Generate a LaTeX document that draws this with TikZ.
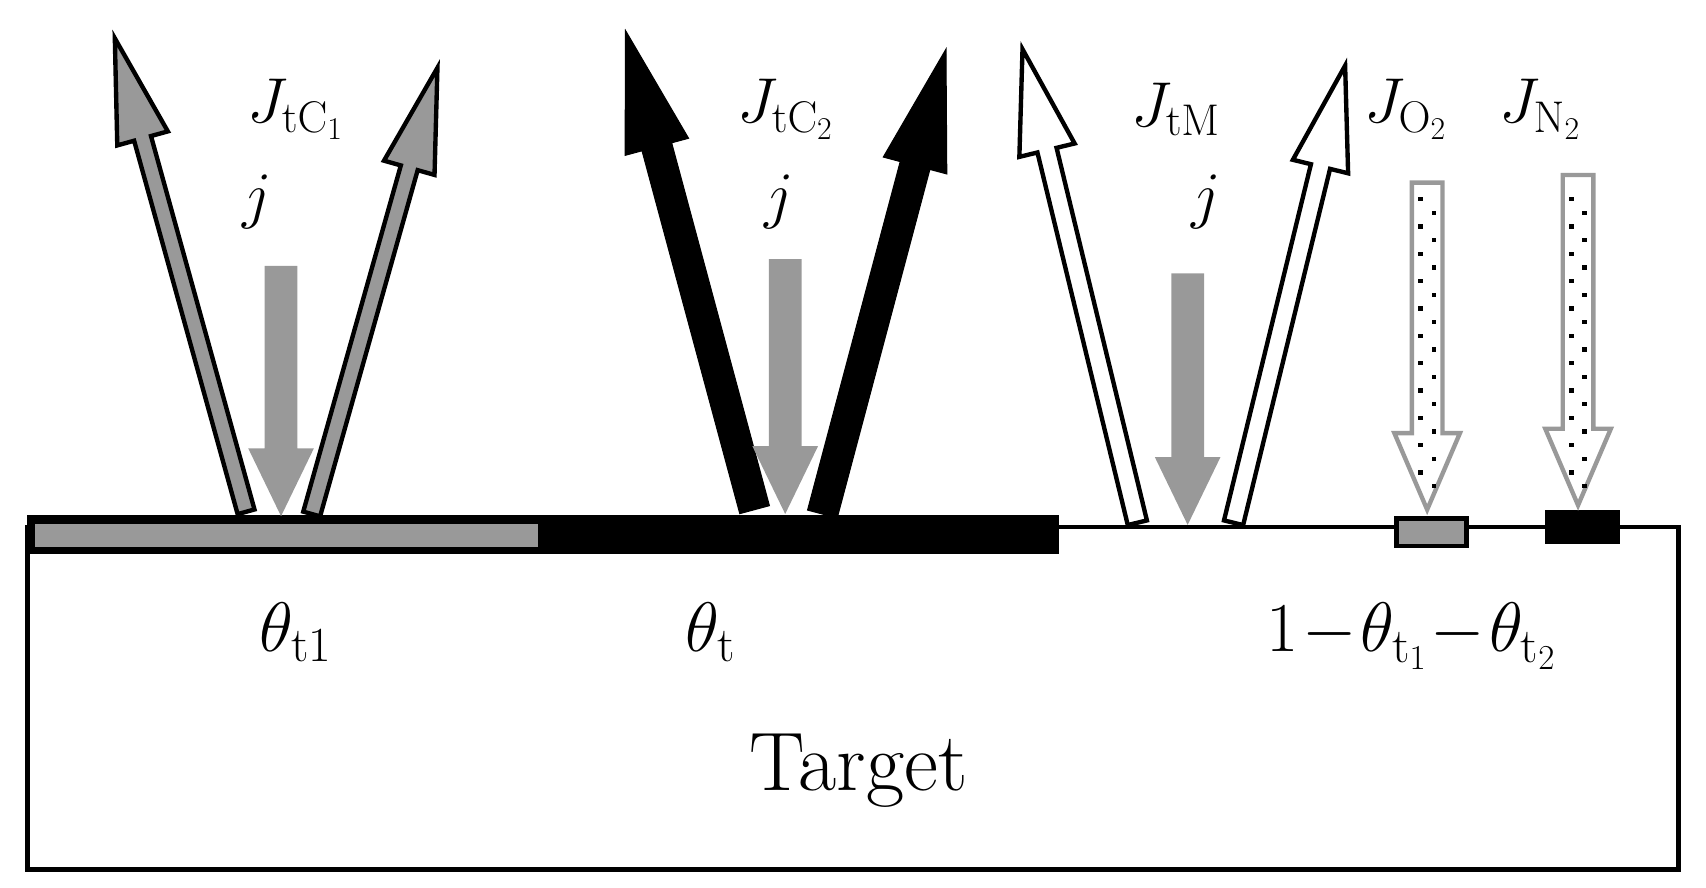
\RequirePackage{fix-cm}
\documentclass[tikz,border=0pt]{standalone}
\usetikzlibrary{calc}
\definecolor{mgray}{HTML}{999999}
\newcommand\farrow[6]{% start, tip, shaft half width, head half width, head length, style
  \coordinate (S) at #1; \coordinate (T) at #2;
  \coordinate (B) at ($(T)!#5!(S)$);
  \filldraw[#6] ($(S)!#3!90:(T)$) -- ($(B)!#3!-90:(S)$) -- ($(B)!#4!-90:(S)$) -- (T)
    -- ($(B)!#4!90:(S)$) -- ($(B)!#3!90:(S)$) -- ($(S)!#3!-90:(T)$) -- cycle;}
\begin{document}
\begin{tikzpicture}[x=1pt,y=-1pt,
  lab/.style={font=\fontsize{58}{58}\selectfont},
  big/.style={font=\fontsize{64}{64}\selectfont},
  grayarr/.style={fill=mgray,draw=black,line width=4pt,line join=miter},
  blackarr/.style={fill=black,draw=black,line width=1pt},
  whitearr/.style={fill=white,draw=black,line width=4pt},
  jarr/.style={fill=mgray,draw=none},
  dotarr/.style={fill=white,draw=mgray,line width=4pt}]
\useasboundingbox (0,0) rectangle (1560,812);
% target
\draw[line width=4pt] (25,482) rectangle (1535,795);
\fill[black] (25,471) rectangle (968,507);
\fill[mgray] (32,479) rectangle (492,500);
\filldraw[fill=mgray,draw=black,line width=4pt] (1277,474) rectangle (1341,499);
\fill[black] (1413,466) rectangle (1481,497);
% group 1
\farrow{(225,468)}{(105,35)}{8pt}{24pt}{95pt}{grayarr}
\farrow{(285,470)}{(400,62)}{8pt}{24pt}{95pt}{grayarr}
\farrow{(257,243)}{(257,472)}{15pt}{30pt}{62pt}{jarr}
% group 2
\farrow{(690,466)}{(572,28)}{14pt}{30pt}{110pt}{blackarr}
\farrow{(752,470)}{(865,45)}{14pt}{30pt}{110pt}{blackarr}
\farrow{(718,237)}{(718,470)}{15pt}{30pt}{62pt}{jarr}
% group 3
\farrow{(1040,478)}{(935,45)}{9pt}{26pt}{95pt}{whitearr}
\farrow{(1128,478)}{(1230,60)}{9pt}{26pt}{95pt}{whitearr}
\farrow{(1086,250)}{(1086,480)}{15pt}{30pt}{62pt}{jarr}
% dotted arrows
\farrow{(1305,167)}{(1305,466)}{14pt}{30pt}{70pt}{dotarr}
\farrow{(1443,160)}{(1443,462)}{14pt}{30pt}{70pt}{dotarr}
\foreach \x in {1305,1443}{
  \foreach \i in {0,...,21}{
    \pgfmathsetmacro\yy{182+\i*12.5}
    \pgfmathsetmacro\xx{\x+(mod(\i,2)==0 ? -6 : 6)}
    \fill[black] (\xx-2,\yy-2) rectangle (\xx+2,\yy+2);}}
% labels
\node[lab] (l1) at (270,100) {$J_{\mathrm{tC}_1}$};
\node[lab] (j1) at (235,185) {$j$};
\node[lab] (l2) at (718,100) {$J_{\mathrm{tC}_2}$};
\node[lab] (j2) at (712,185) {$j$};
\node[lab] (l3) at (1075,100) {$J_{\mathrm{tM}}$};
\node[lab] (j3) at (1103,185) {$j$};
\node[lab] (l4) at (1285,100) {$J_{\mathrm{O}_2}$};
\node[lab] (l5) at (1408,100) {$J_{\mathrm{N}_2}$};
\node[big] (t1) at (270,578) {$\theta_{\mathrm{t1}}$};
\node[big] (t2) at (650,578) {$\theta_{\mathrm{t}}$};
\node[big] (t3) at (1290,582) {$1\!-\!\theta_{\mathrm{t}_1}\!-\!\theta_{\mathrm{t}_2}$};
\node[font=\fontsize{76}{76}\selectfont] (tg) at (785,705) {Target};
\end{tikzpicture}
\end{document}
